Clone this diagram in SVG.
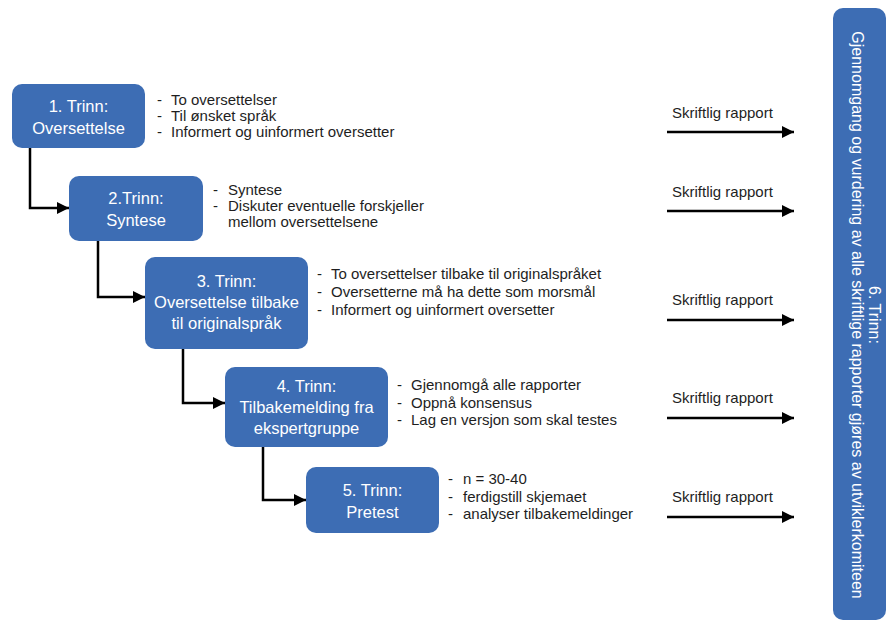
<svg xmlns="http://www.w3.org/2000/svg" width="892" height="628" viewBox="0 0 892 628">
<defs>
<marker id="ah" viewBox="0 0 10 10" refX="10" refY="5" markerWidth="5" markerHeight="5" orient="auto" markerUnits="strokeWidth">
<path d="M0,0 L10,5 L0,10 z" fill="#000"/>
</marker>
<style>
.box{fill:#3D6DB4;}
.bt{font-family:"Liberation Sans",Arial,sans-serif;font-size:16.5px;fill:#fff;text-anchor:middle;}
.rt{font-family:"Liberation Sans",Arial,sans-serif;font-size:16px;fill:#fff;text-anchor:middle;}
.bl{font-family:"Liberation Sans",Arial,sans-serif;font-size:15px;fill:#1e1e1e;}
.lab{font-family:"Liberation Sans",Arial,sans-serif;font-size:15px;fill:#1e1e1e;}
.con{fill:none;stroke:#000;stroke-width:2.5;marker-end:url(#ah);}
</style>
</defs>
<rect width="892" height="628" fill="#fff"/>
<g id="step1">
<rect class="box" x="12" y="84" width="133" height="64" rx="10"/>
<text class="bt" x="78.5" y="112">1. Trinn:</text>
<text class="bt" x="78.5" y="134">Oversettelse</text>
<text class="bl" x="157" y="105">-<tspan x="171">To oversettelser</tspan></text>
<text class="bl" x="157" y="121">-<tspan x="171">Til ønsket språk</tspan></text>
<text class="bl" x="157" y="137">-<tspan x="171">Informert og uinformert oversetter</tspan></text>
</g>
<g id="step2">
<rect class="box" x="69" y="176" width="134" height="65" rx="10"/>
<text class="bt" x="136" y="204">2.Trinn:</text>
<text class="bt" x="136" y="226">Syntese</text>
<text class="bl" x="213" y="195">-<tspan x="228">Syntese</tspan></text>
<text class="bl" x="213" y="211">-<tspan x="228">Diskuter eventuelle forskjeller</tspan></text>
<text class="bl" x="228" y="227">mellom oversettelsene</text>
</g>
<g id="step3">
<rect class="box" x="145" y="257" width="163" height="92" rx="10"/>
<text class="bt" x="226.5" y="287">3. Trinn:</text>
<text class="bt" x="226.5" y="308">Oversettelse tilbake</text>
<text class="bt" x="226.5" y="329">til originalspråk</text>
<text class="bl" x="317" y="279">-<tspan x="331">To oversettelser tilbake til originalspråket</tspan></text>
<text class="bl" x="317" y="297">-<tspan x="331">Oversetterne må ha dette som morsmål</tspan></text>
<text class="bl" x="317" y="315">-<tspan x="331">Informert og uinformert oversetter</tspan></text>
</g>
<g id="step4">
<rect class="box" x="225" y="367" width="163" height="80" rx="10"/>
<text class="bt" x="306.5" y="392">4. Trinn:</text>
<text class="bt" x="306.5" y="413">Tilbakemelding fra</text>
<text class="bt" x="306.5" y="434">ekspertgruppe</text>
<text class="bl" x="397" y="390">-<tspan x="411">Gjennomgå alle rapporter</tspan></text>
<text class="bl" x="397" y="408">-<tspan x="411">Oppnå konsensus</tspan></text>
<text class="bl" x="397" y="425">-<tspan x="411">Lag en versjon som skal testes</tspan></text>
</g>
<g id="step5">
<rect class="box" x="306" y="467" width="133" height="66" rx="10"/>
<text class="bt" x="372.5" y="496">5. Trinn:</text>
<text class="bt" x="372.5" y="518">Pretest</text>
<text class="bl" x="448" y="484">-<tspan x="463">n = 30-40</tspan></text>
<text class="bl" x="448" y="502">-<tspan x="463">ferdigstill skjemaet</tspan></text>
<text class="bl" x="448" y="519">-<tspan x="463">analyser tilbakemeldinger</tspan></text>
</g>
<g id="step6">
<rect class="box" x="833" y="8" width="53" height="612" rx="10"/>
<g transform="translate(859.5,315) rotate(90)">
<text class="rt" x="0" y="-9">6. Trinn:</text>
<text class="rt" x="0" y="8">Gjennomgang og vurdering av alle skriftlige rapporter gjøres av utviklerkomiteen</text>
</g>
</g>
<g id="connectors">
<path class="con" d="M30,148 V208 H69"/>
<path class="con" d="M98,241 V297 H145"/>
<path class="con" d="M183,349 V403 H225"/>
<path class="con" d="M263,447 V500 H306"/>
<path class="con" d="M667,132 H794"/>
<path class="con" d="M667,211 H794"/>
<path class="con" d="M667,320 H794"/>
<path class="con" d="M667,418 H794"/>
<path class="con" d="M667,517 H794"/>
</g>
<g id="labels">
<text class="lab" x="672" y="118">Skriftlig rapport</text>
<text class="lab" x="672" y="197">Skriftlig rapport</text>
<text class="lab" x="672" y="305">Skriftlig rapport</text>
<text class="lab" x="672" y="403">Skriftlig rapport</text>
<text class="lab" x="672" y="502">Skriftlig rapport</text>
</g>
</svg>
